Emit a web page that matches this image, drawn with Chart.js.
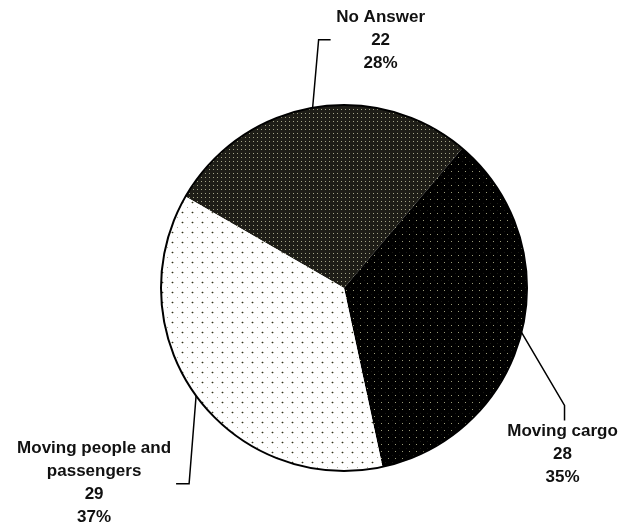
<!DOCTYPE html>
<html>
<head>
<meta charset="utf-8">
<script src="https://cdn.jsdelivr.net/npm/chart.js@4/dist/chart.umd.min.js"></script>
<style>
  body { margin: 0; background: #fff; }
  canvas { display: block; }
</style>
</head>
<body>
<canvas id="pieChart" width="624" height="525"></canvas>
<script>
// du lieu doc tu hinh
const categories = ['No Answer', 'Moving cargo', ['Moving people and', 'passengers']];
const counts = [22, 28, 29];

// vi tri nhan (doi so voi diem giua cung tron)
const labelLayout = [
  { elbow: [6, -68], end: [18, -68], text: [68, -90] },
  { elbow: [43, 73], end: [43, 88], text: [41, 99] },
  { elbow: [-7, 88], end: [-20, 88], text: [-102, 53] }
];
const lineGap = 23;

// tao hoa van cham bi
function makePattern(size, bg, dots) {
  const c = document.createElement('canvas');
  c.width = size;
  c.height = size;
  const g = c.getContext('2d');
  g.fillStyle = bg;
  g.fillRect(0, 0, size, size);
  dots.forEach(d => {
    g.fillStyle = d[2];
    g.fillRect(d[0], d[1], d[3] || 1, d[3] || 1);
  });
  return g.createPattern(c, 'repeat');
}

const ctx = document.getElementById('pieChart').getContext('2d');

const fills = [
  makePattern(4, '#1e1d17', [[1, 1, '#a4a488']]),
  makePattern(7, '#000000', [[3, 3, '#9a9a78'], [0, 0, '#1a1a14']]),
  makePattern(10, '#ffffff', [[2, 2, '#2e2e26'], [1, 2, '#b8b8a8'], [3, 2, '#b8b8a8'], [2, 1, '#d0d0c4'], [2, 3, '#d0d0c4'], [7, 7, '#a8a898']])
];

const labelPlugin = {
  id: 'leaderLabels',
  afterDatasetsDraw(chart) {
    // vien ngoai hinh tron (khong ve duong giua cac lat)
    const c = chart.ctx;
    const arc0 = chart.getDatasetMeta(0).data[0];
    const p = arc0.getProps(['x', 'y', 'outerRadius'], true);
    c.save();
    c.strokeStyle = '#000';
    c.lineWidth = 2;
    c.beginPath();
    c.arc(p.x, p.y, p.outerRadius, 0, Math.PI * 2);
    c.stroke();
    c.restore();
  },
  afterDraw(chart) {
    const c = chart.ctx;
    const meta = chart.getDatasetMeta(0);
    const total = counts.reduce((a, b) => a + b, 0);
    c.save();
    meta.data.forEach((arc, i) => {
      const p = arc.getProps(['x', 'y', 'startAngle', 'endAngle', 'outerRadius'], true);
      const mid = (p.startAngle + p.endAngle) / 2;
      const ax = p.x + Math.cos(mid) * p.outerRadius;
      const ay = p.y + Math.sin(mid) * p.outerRadius;
      const lay = labelLayout[i];

      c.strokeStyle = '#000';
      c.lineWidth = 1.5;
      c.beginPath();
      c.moveTo(ax, ay);
      c.lineTo(ax + lay.elbow[0], ay + lay.elbow[1]);
      c.lineTo(ax + lay.end[0], ay + lay.end[1]);
      c.stroke();

      const name = Array.isArray(categories[i]) ? categories[i] : [categories[i]];
      const lines = name.concat([String(counts[i]), Math.round(counts[i] / total * 100) + '%']);
      c.fillStyle = '#111';
      c.font = 'bold 17px "Liberation Sans", Arial, sans-serif';
      c.textAlign = 'center';
      c.textBaseline = 'middle';
      lines.forEach((t, k) => {
        c.fillText(t, ax + lay.text[0], ay + lay.text[1] + k * lineGap);
      });
    });
    c.restore();
  }
};

new Chart(ctx, {
  type: 'pie',
  data: {
    labels: categories,
    datasets: [{
      data: counts,
      backgroundColor: fills,
      borderWidth: 0
    }]
  },
  options: {
    responsive: false,
    animation: false,
    devicePixelRatio: 1,
    rotation: -60,
    layout: { padding: { left: 161, right: 97, top: 105, bottom: 54 } },
    plugins: {
      legend: { display: false },
      tooltip: { enabled: false }
    }
  },
  plugins: [labelPlugin]
});
</script>
</body>
</html>
